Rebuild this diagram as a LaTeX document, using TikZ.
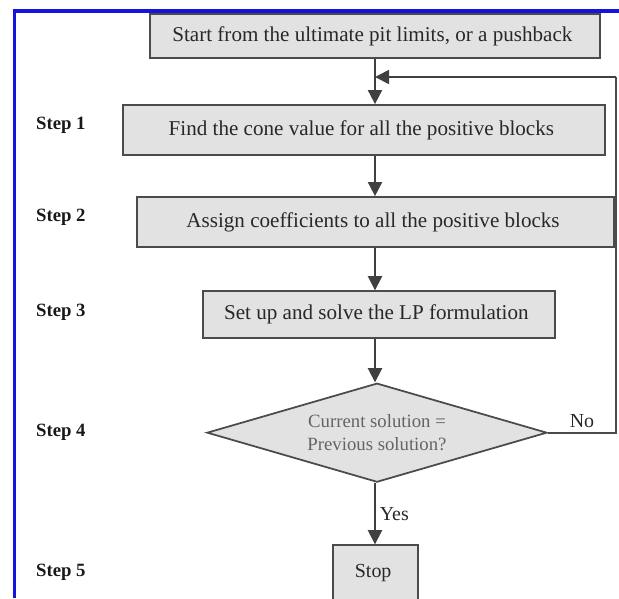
\documentclass[tikz,border=0pt]{standalone}
\usepackage{fontspec}
\setmainfont{Liberation Serif}
\definecolor{frameblue}{RGB}{20, 20, 220}
\definecolor{boxfill}{RGB}{226, 226, 226}
\definecolor{boxline}{RGB}{75, 75, 75}
\definecolor{boxtext}{RGB}{40, 40, 40}
\definecolor{softtext}{RGB}{100, 100, 100}
\usepackage{tikz}
\usetikzlibrary{shapes.geometric, arrows.meta, positioning}
\tikzset{
    process/.style={rectangle, minimum height=1.5cm, align=center, draw=boxline, line width=1.5pt, fill=boxfill, text=boxtext, font=\fontsize{18}{21}\selectfont},
    decision/.style={diamond, aspect=3.4, minimum width=10.2cm, minimum height=2.97cm, inner sep=0pt, align=center, draw=boxline, line width=1.5pt, fill=boxfill, text=softtext, font=\fontsize{16}{19}\selectfont},
    steplabel/.style={anchor=west, font=\fontsize{16}{19}\selectfont\bfseries, text=black!90},
    answer/.style={font=\fontsize{17}{20}\selectfont, text=boxtext},
    arrow/.style={line width=1.5pt, ->, >={Triangle[length=12pt, width=12pt]}, black!75},
    flowline/.style={line width=1.5pt, boxline}
}

\begin{document}
\begin{tikzpicture}
        \useasboundingbox (0, 0) rectangle (18.57, -17.94);

        % Blue frame
        \draw[frameblue, line width=3pt] (0.43, -17.94) -- (0.43, -0.33) -- (18.57, -0.33);

        % Axis of the flow
        \coordinate (axis) at (11.25, 0);
        \coordinate (loop) at (18.48, -2.31);

        % Boxes
        \node[process, minimum width=13.5cm, minimum height=1.32cm] (start) at (11.25, -1.08) {
            Start from the ultimate pit limits, or a pushback
        };

        \node[process, minimum width=14.46cm] (cone) at (10.92, -3.9) {
            Find the cone value for all the positive blocks
        };

        \node[process, minimum width=14.31cm] (coeff) at (11.27, -6.66) {
            Assign coefficients to all the positive blocks
        };

        \node[process, minimum width=10.56cm, minimum height=1.41cm] (solve) at (11.37, -9.44) {
            Set up and solve the LP formulation
        };

        \node[decision] (check) at (11.31, -12.98) {
            Current solution =\\
            Previous solution?
        };

        \node[process, minimum width=2.55cm, minimum height=1.65cm, font=\fontsize{17}{20}\selectfont] (stop) at (11.27, -17.18) {
            Stop
        };

        % Step labels
        \node[steplabel] (step1) at (0.96, -3.75) {Step 1};
        \node[steplabel] (step2) at (0.96, -6.51) {Step 2};
        \node[steplabel] (step3) at (0.96, -9.36) {Step 3};
        \node[steplabel] (step4) at (0.96, -12.96) {Step 4};
        \node[steplabel] (step5) at (0.96, -17.16) {Step 5};

        % Connectors
        \draw[arrow] (start.south -| axis) -- (cone.north -| axis);
        \draw[arrow] (cone.south -| axis) -- (coeff.north -| axis);
        \draw[arrow] (coeff.south -| axis) -- (solve.north -| axis);
        \draw[arrow] (solve.south -| axis) -- (check.north -| axis);
        \draw[arrow] (check.south -| axis) -- node[answer, right] {Yes} (stop.north -| axis);
        \draw[flowline] (check.east) -- node[answer, above] {No} (check.east -| loop) -- (loop);
        \draw[arrow] (loop) -- (loop -| axis);
    \end{tikzpicture}
\end{document}
